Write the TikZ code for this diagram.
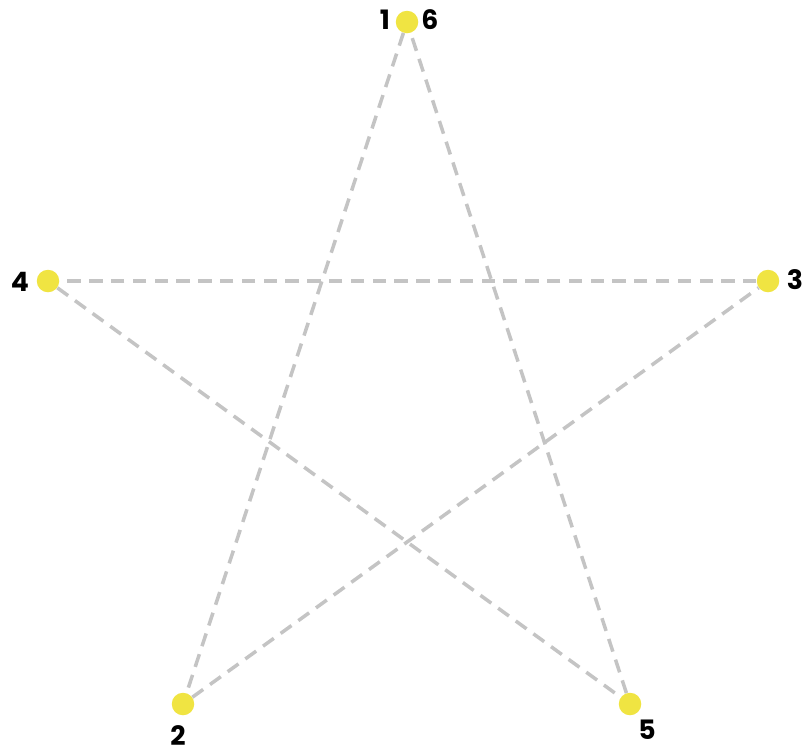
\documentclass[tikz,border=0pt]{standalone}
\usepackage{fontspec}
\setmainfont{Poppins}
\definecolor{dotyellow}{HTML}{F0E442}
\definecolor{linegray}{HTML}{C4C4C4}
\tikzset{
  pt/.style={circle, fill=dotyellow, inner sep=0pt, minimum size=16pt},
  lbl/.style={font=\fontsize{19}{22}\selectfont\bfseries, inner sep=0pt},
  edge/.style={draw=linegray, line width=2.5pt, dash pattern=on 9.5pt off 6pt}
}
\begin{document}
\begin{tikzpicture}[x=0.025cm, y=-0.025cm]
  \useasboundingbox (0,0) rectangle (807,752);
  % star points
  \node[pt] (top) at (407,22) {};
  \node[pt] (left) at (48,281) {};
  \node[pt] (right) at (768,281) {};
  \node[pt] (bl) at (183,704) {};
  \node[pt] (br) at (630,704) {};

  \draw[edge] (top) -- (bl);
  \draw[edge] (bl) -- (right);
  \draw[edge] (right) -- (left);
  \draw[edge] (left) -- (br);
  \draw[edge] (br) -- (top);

  % order labels
  \node[lbl] (n1) at (385,20) {1};
  \node[lbl] (n6) at (430,20) {6};
  \node[lbl] (n4) at (20,282) {4};
  \node[lbl] (n3) at (795,280) {3};
  \node[lbl] (n2) at (178,736) {2};
  \node[lbl] (n5) at (647,730) {5};
\end{tikzpicture}
\end{document}
